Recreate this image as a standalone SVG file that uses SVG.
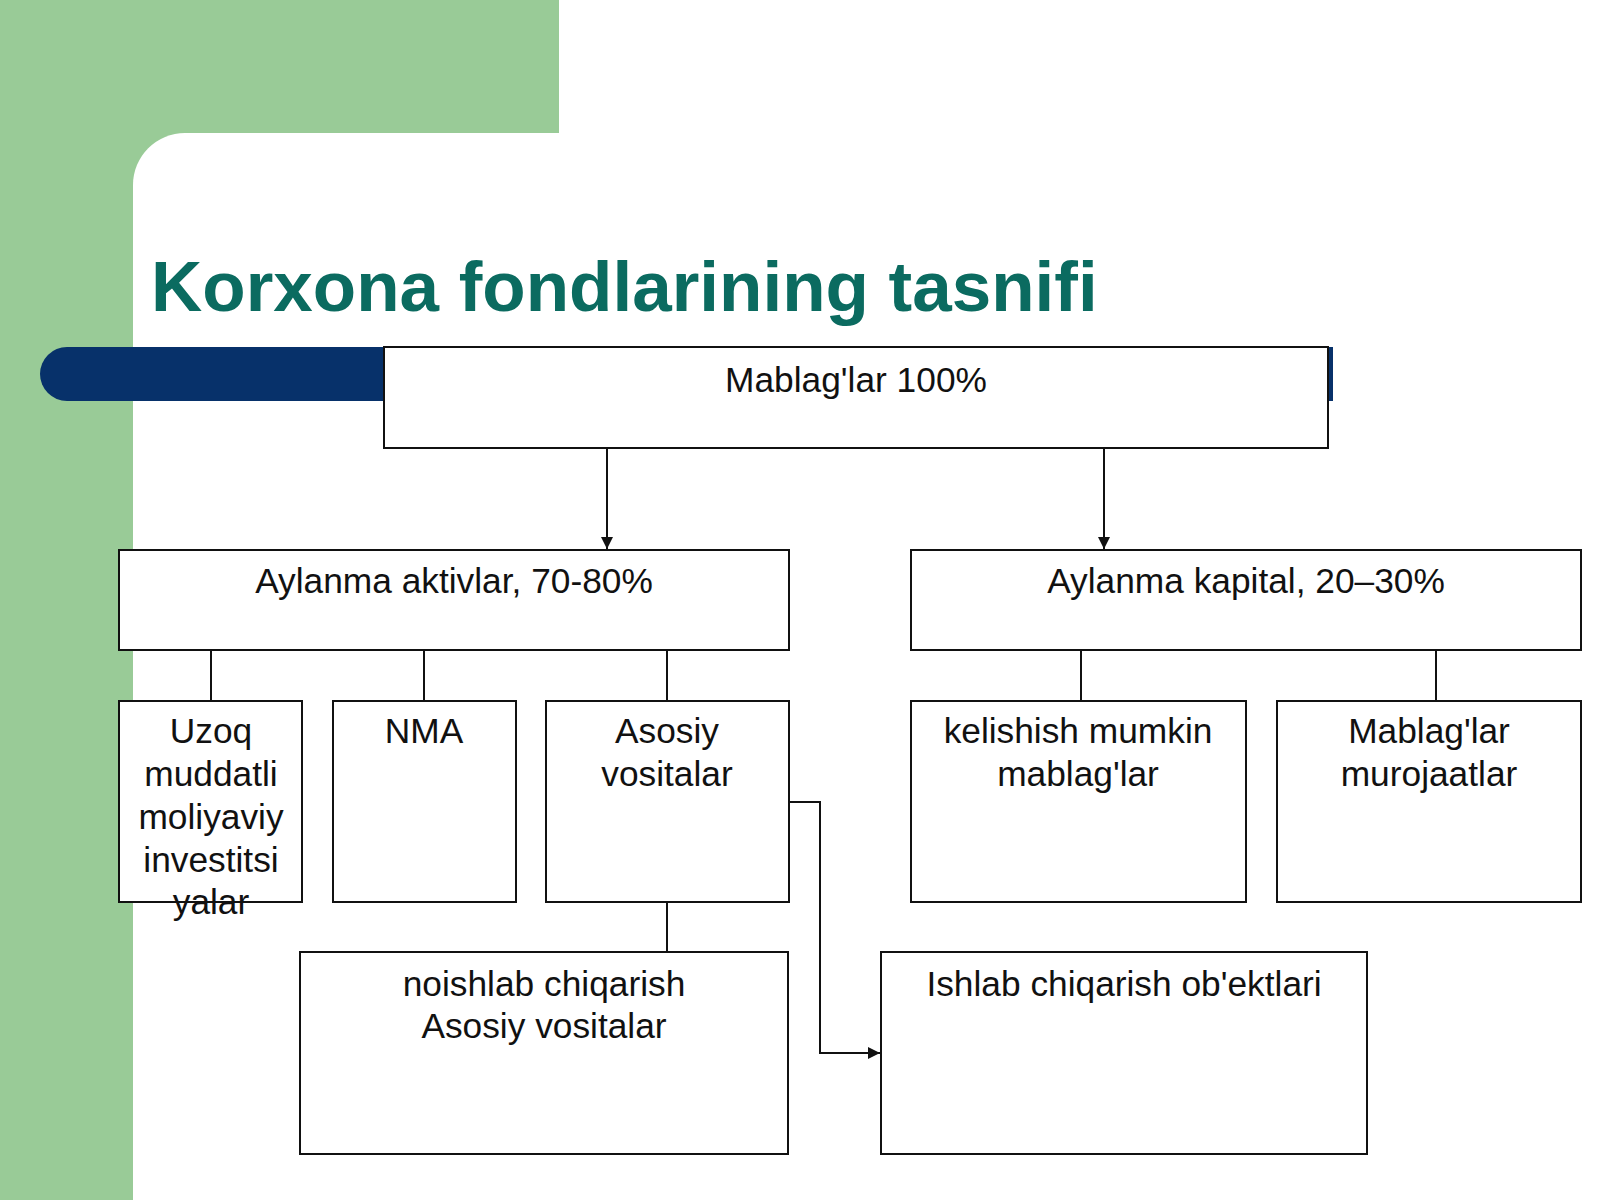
<svg xmlns="http://www.w3.org/2000/svg" width="1600" height="1200" viewBox="0 0 1600 1200">
<defs>
<style>
.box{fill:#ffffff;stroke:#111111;stroke-width:2}
.lbl{font-family:"Liberation Sans",Arial,sans-serif;font-size:35.3px;fill:#111111;text-anchor:middle}
.con{fill:none;stroke:#111111;stroke-width:2}
</style>
<marker id="ah" markerUnits="userSpaceOnUse" markerWidth="13" markerHeight="12" refX="12" refY="6" orient="auto">
<path d="M0,0 L12,6 L0,12 z" fill="#111111"/>
</marker>
</defs>
<rect x="0" y="0" width="1600" height="1200" fill="#ffffff"/>
<g id="background">
<rect x="0" y="0" width="559" height="220" fill="#99cb97"/>
<rect x="0" y="0" width="133" height="1200" fill="#99cb97"/>
<rect x="133" y="133" width="1600" height="1200" rx="52" ry="52" fill="#ffffff"/>
<path d="M67,347 H1333 V401 H67 A27,27 0 0 1 67,347 z" fill="#07316a"/>
<text x="151" y="311" font-family="'Liberation Sans',Arial,sans-serif" font-size="71" font-weight="bold" fill="#0b6b60">Korxona fondlarining tasnifi</text>
</g>
<g id="connectors">
<path class="con" d="M607,448 V549" marker-end="url(#ah)"/>
<path class="con" d="M1104,448 V549" marker-end="url(#ah)"/>
<path class="con" d="M211,650 V701"/>
<path class="con" d="M424,650 V701"/>
<path class="con" d="M667,650 V701"/>
<path class="con" d="M1081,650 V701"/>
<path class="con" d="M1436,650 V701"/>
<path class="con" d="M667,902 V952"/>
<path class="con" d="M789,802 H820 V1053 H880" marker-end="url(#ah)"/>
</g>
<g id="n-mablaglar">
<rect class="box" x="384" y="347" width="944" height="101"/>
<text class="lbl" x="856" y="392">Mablag'lar 100%</text>
</g>
<g id="n-aktivlar">
<rect class="box" x="119" y="550" width="670" height="100"/>
<text class="lbl" x="454" y="593">Aylanma aktivlar, 70-80%</text>
</g>
<g id="n-kapital">
<rect class="box" x="911" y="550" width="670" height="100"/>
<text class="lbl" x="1246" y="593">Aylanma kapital, 20–30%</text>
</g>
<g id="n-uzoq">
<rect class="box" x="119" y="701" width="183" height="201"/>
<text class="lbl" x="211" y="743">Uzoq</text>
<text class="lbl" x="211" y="786">muddatli</text>
<text class="lbl" x="211" y="829">moliyaviy</text>
<text class="lbl" x="211" y="872">investitsi</text>
<text class="lbl" x="211" y="914">yalar</text>
</g>
<g id="n-nma">
<rect class="box" x="333" y="701" width="183" height="201"/>
<text class="lbl" x="424" y="743">NMA</text>
</g>
<g id="n-asosiy">
<rect class="box" x="546" y="701" width="243" height="201"/>
<text class="lbl" x="667" y="743">Asosiy</text>
<text class="lbl" x="667" y="786">vositalar</text>
</g>
<g id="n-kelishish">
<rect class="box" x="911" y="701" width="335" height="201"/>
<text class="lbl" x="1078" y="743">kelishish mumkin</text>
<text class="lbl" x="1078" y="786">mablag'lar</text>
</g>
<g id="n-murojaat">
<rect class="box" x="1277" y="701" width="304" height="201"/>
<text class="lbl" x="1429" y="743">Mablag'lar</text>
<text class="lbl" x="1429" y="786">murojaatlar</text>
</g>
<g id="n-noishlab">
<rect class="box" x="300" y="952" width="488" height="202"/>
<text class="lbl" x="544" y="996">noishlab chiqarish</text>
<text class="lbl" x="544" y="1038">Asosiy vositalar</text>
</g>
<g id="n-ishlab">
<rect class="box" x="881" y="952" width="486" height="202"/>
<text class="lbl" x="1124" y="996">Ishlab chiqarish ob'ektlari</text>
</g>
</svg>
